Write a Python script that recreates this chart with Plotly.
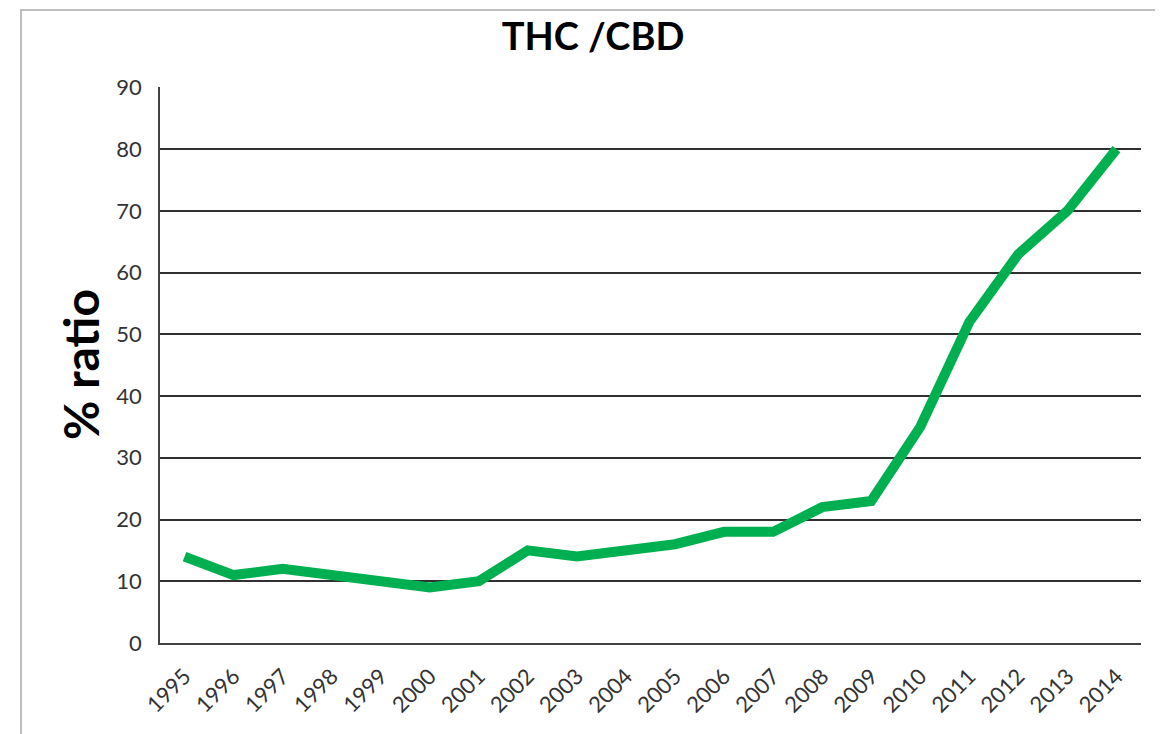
import plotly.graph_objects as go

years = [str(y) for y in range(1995, 2015)]
ratio = [14, 11, 12, 11, 10, 9, 10, 15, 14, 15, 16, 18, 18, 22, 23, 35, 52, 63, 70, 80]
y_ticks = [0, 10, 20, 30, 40, 50, 60, 70, 80, 90]

FONT = "Lato"

fig = go.Figure()
fig.add_trace(go.Scatter(
    x=years, y=ratio, mode="lines",
    line=dict(color="#00B050", width=10),
    showlegend=False, hoverinfo="x+y",
))

fig.update_layout(
    width=1163, height=734,
    margin=dict(l=152, r=30, t=79, b=99, autoexpand=False),
    paper_bgcolor="white", plot_bgcolor="white",
    font=dict(family=FONT, color="#404040"),
    title=dict(text="<b>THC /CBD</b>", x=585/1163, xref="container", xanchor="center",
               y=1-29/734, yref="container", yanchor="middle", automargin=False,
               font=dict(family=FONT, size=38, color="black")),
    xaxis=dict(type="category", range=[-0.5, 19.5], tickangle=-45,
               tickfont=dict(size=22, color="#333333"), automargin=False,
               showgrid=False, showline=True, linecolor="#404040", linewidth=1.5,
               ticks="", ticklabelstandoff=10, fixedrange=True),
    yaxis=dict(range=[0, 90.05], tickvals=y_ticks, tickfont=dict(size=22, color="#333333"),
               showgrid=True, gridcolor="#303030", gridwidth=1.5, automargin=False,
               showline=True, linecolor="#404040", linewidth=1.5,
               zeroline=False, ticks="", ticklabelstandoff=12, fixedrange=True),
    shapes=[dict(type="rect", xref="paper", yref="paper",
                 x0=(21-160)/981, x1=1.2, y0=-0.4, y1=(643-10)/556,
                 line=dict(color="#BFBFBF", width=2), layer="below")],
    annotations=[dict(text="<b>% ratio</b>", textangle=-90, xref="paper", yref="paper",
                      x=(80-160)/981, y=(643-365)/556, showarrow=False,
                      xanchor="center", yanchor="middle",
                      font=dict(family=FONT, size=48, color="black"))],
)

fig.write_html("out.html")
